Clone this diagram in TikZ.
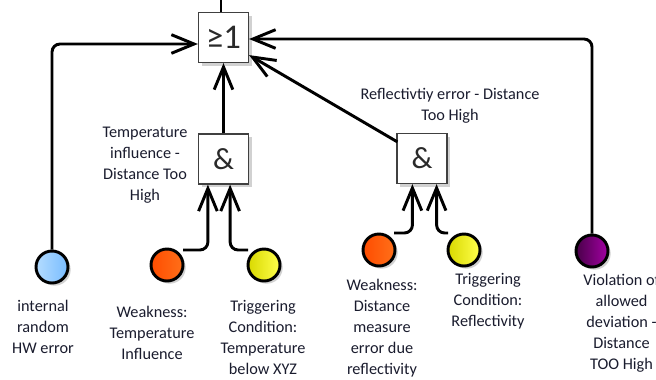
\documentclass[tikz,border=0pt]{standalone}
\usepackage{fontspec}
\setmainfont{Carlito}
\usetikzlibrary{arrows.meta,calc,shadows}
\definecolor{txt}{HTML}{1A1C2E}
\definecolor{gtxt}{HTML}{2A2A2A}
\definecolor{blueL}{HTML}{B4DCFF}
\definecolor{blueR}{HTML}{78BCFF}
\begin{document}
\begin{tikzpicture}[x=0.75pt,y=-0.75pt]
\tikzset{
  gate/.style={draw=black!75, line width=0.9pt, fill=white, minimum size=37.5pt, inner sep=0pt,
    drop shadow={shadow xshift=2.5pt, shadow yshift=-2.5pt, fill=black!18, opacity=1}, text=gtxt},
  event/.style={circle, draw=black, line width=2.2pt, minimum size=24pt, inner sep=0pt,
    drop shadow={shadow xshift=2pt, shadow yshift=-2pt, fill=black!25, opacity=0.7}},
  conn/.style={line width=2.2pt, rounded corners=6pt},
  arr/.style={conn, -{Straight Barb[length=17pt,width=14pt,line width=2.2pt]}},
  lbl/.style={align=center, text=txt, font=\fontsize{12.2}{15.8}\selectfont, inner sep=0pt}
}
\clip (0,0) rectangle (656,379);
\fill[white] (0,0) rectangle (656,379);

% gates
\node[gate, font=\fontsize{26}{26}\selectfont] (or) at (223.5,37.5) {≥1};
\node[gate, font=\fontsize{23}{23}\selectfont] (g1) at (223.5,159) {\&};
\node[gate, font=\fontsize{23}{23}\selectfont] (g2) at (422,158.5) {\&};

% events
\node[event, left color=blueL, right color=blueR] (hw) at (52,267) {};
\node[event, left color=orange!60!red, right color=orange!75!red!90!white] (o1) at (167,265) {};
\node[event, left color=yellow!85!black, right color=yellow!70!white] (y1) at (264,265) {};
\node[event, left color=orange!60!red, right color=orange!75!red!90!white] (o2) at (379,250) {};
\node[event, left color=yellow!85!black, right color=yellow!70!white] (y2) at (464,250) {};
\node[event, left color=violet!50!black!95!magenta, right color=magenta!60!violet!80!black] (viol) at (592,251) {};

% labels
\node[lbl] (ltinf) at (145,165) {Temperature\\influence -\\Distance Too\\High};
\node[lbl] (lrefl) at (450,106) {Reflectivtiy error - Distance\\Too High};
\node[lbl] (lhw) at (43,327) {internal\\random\\HW error};
\node[lbl] (lw1) at (152,333) {Weakness:\\Temperature\\Influence};
\node[lbl] (lt1) at (263,337.5) {Triggering\\Condition:\\Temperature\\below XYZ};
\node[lbl] (lw2) at (382,328) {Weakness:\\Distance\\measure\\error due\\reflectivity};
\node[lbl] (lt2) at (488,301) {Triggering\\Condition:\\Reflectivity};
\node[lbl] (lv) at (621.5,323) {Violation of\\allowed\\deviation -\\Distance\\TOO High};

% connectors
\coordinate (top) at (221,0);
\draw[conn] (top |- or.north) -- (top);
\draw[arr] (hw.north) |- ($(or.west)+(0,6.5)$);
\draw[arr] (viol.north) |- ($(or.east)+(0,1.5)$);
\draw[arr] (g1.north) -- (or.south);
\draw[arr] ($(g2.north west)+(1,9)$) -- ($(or.south east)+(0,-8)$);
\draw[arr] ($(o1.center)+(16,-15)$) -| ($(g1.south west)+(10,0)$);
\draw[arr] ($(y1.center)+(-16,-15)$) -| ($(g1.south east)+(-19,0)$);
\draw[arr] ($(o2.center)+(15,-17)$) -| ($(g2.south west)+(16,0)$);
\draw[arr] ($(y2.center)+(-16,-17)$) -| ($(g2.south east)+(-11,0)$);
\end{tikzpicture}
\end{document}
